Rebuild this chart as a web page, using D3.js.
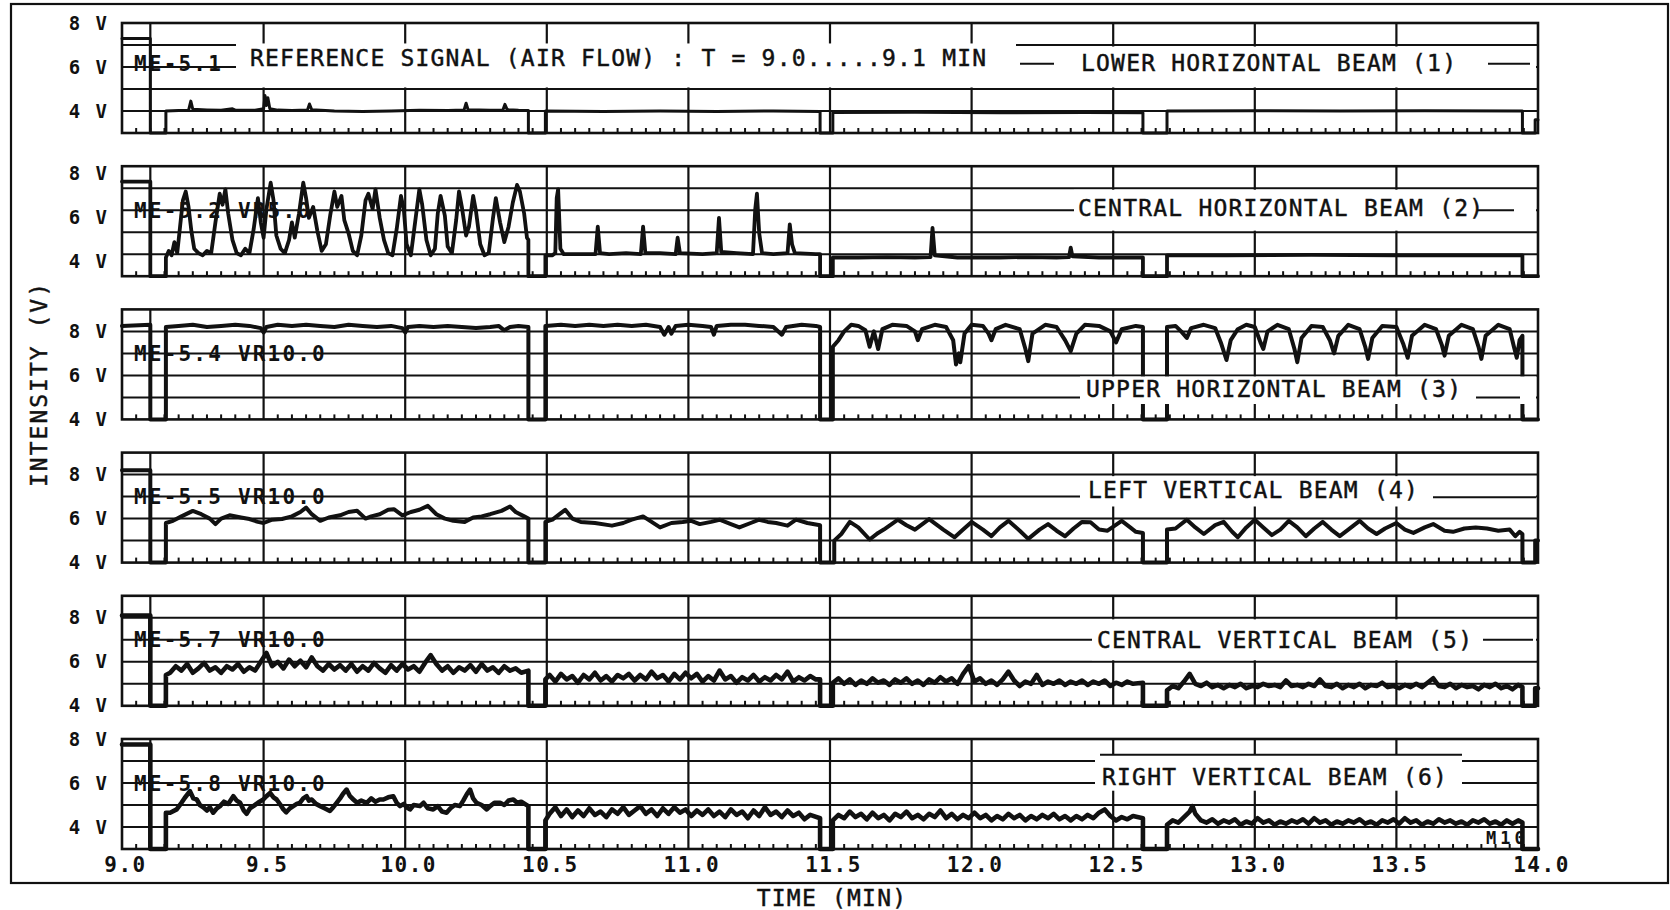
<!DOCTYPE html>
<html>
<head>
<meta charset="utf-8">
<script src="https://cdn.jsdelivr.net/npm/d3@7"></script>
<style>
  html, body { margin: 0; padding: 0; background: #fff; }
  svg { display: block; }
  .beam { font-family: 'DejaVu Sans Mono', monospace; font-size: 23px; letter-spacing: 1.2px; fill: #111; stroke: #111; stroke-width: 0.45px; }
  .chan { font-family: 'DejaVu Sans Mono', monospace; font-size: 21px; font-weight: bold; letter-spacing: 2.2px; fill: #111; }
  .trace { fill: none; stroke: #111; stroke-linejoin: round; stroke-linecap: round; }
</style>
</head>
<body>
<svg id="chart" width="1670" height="910"></svg>
<script>
'use strict';

// axis ticks
var xTickValues = [9, 9.5, 10, 10.5, 11, 11.5, 12, 12.5, 13, 13.5, 14];
var xTickLabels = ['9.0', '9.5', '10.0', '10.5', '11.0', '11.5', '12.0', '12.5', '13.0', '13.5', '14.0'];
var yTickValues = [8, 6, 4];
var yTickLabels = ['8 V', '6 V', '4 V'];
var markerTime = 9.1;

// channel names and beam titles, top to bottom
var channels = ['ME-5.1', 'ME-5.2 VR5.0', 'ME-5.4 VR10.0', 'ME-5.5 VR10.0', 'ME-5.7 VR10.0', 'ME-5.8 VR10.0'];
var beams = ['LOWER HORIZONTAL BEAM (1)', 'CENTRAL HORIZONTAL BEAM (2)', 'UPPER HORIZONTAL BEAM (3)',
  'LEFT VERTICAL BEAM (4)', 'CENTRAL VERTICAL BEAM (5)', 'RIGHT VERTICAL BEAM (6)'];
var refTitle = 'REFERENCE SIGNAL (AIR FLOW) : T = 9.0.....9.1 MIN';

// volts shown at bottom / top of each strip (as printed)
var yDomains = [[3, 8], [3.35, 8.35], [4, 9], [4, 9], [4, 9], [3, 8]];

// [time (min), intensity (V)]
var lowerH = [[9.0,7.3],[9.1,7.3],[9.1,3],[9.155,3],[9.155,4.0],[9.2,4.02],[9.235,4.03],[9.243,4.45],[9.25,4.08],
  [9.3,4.05],[9.35,4.03],[9.39,4.1],[9.4,4.04],[9.47,4.03],[9.5,4.1],[9.505,4.7],[9.51,4.25],[9.515,4.6],[9.522,4.1],
  [9.55,4.04],[9.6,4.02],[9.655,4.05],[9.662,4.32],[9.67,4.06],[9.75,4.0],[9.85,3.98],[9.95,4.0],[10.05,4.03],
  [10.15,4.02],[10.208,4.05],[10.215,4.35],[10.222,4.06],[10.3,4.03],[10.345,4.05],[10.352,4.3],[10.36,4.06],
  [10.4,4.03],[10.435,4.02],[10.435,3],[10.495,3],[10.495,4.0],[10.7,3.98],[10.9,4.0],[11.1,3.98],[11.3,4.0],
  [11.465,3.98],[11.465,3],[11.51,3],[11.51,3.93],[11.8,3.94],[12.1,3.92],[12.4,3.93],[12.605,3.92],[12.605,3],
  [12.69,3],[12.69,4.0],[13.0,4.01],[13.3,4.0],[13.6,4.01],[13.945,4.0],[13.945,3],[13.99,3],[13.99,3.6],[14.0,3.6]];

var centralH = [[9.0,7.65],[9.1,7.65],[9.1,3.35],[9.155,3.35],[9.155,4.2],[9.165,4.5],[9.175,4.3],[9.185,4.9],
  [9.195,4.4],[9.205,5.6],[9.215,6.8],[9.225,7.2],[9.235,6.5],[9.245,5.4],[9.255,4.6],[9.27,4.4],[9.285,4.3],
  [9.3,4.5],[9.315,4.4],[9.33,5.8],[9.345,7.1],[9.355,6.6],[9.365,7.3],[9.375,6.2],[9.39,5.0],[9.405,4.4],
  [9.42,4.3],[9.435,4.6],[9.45,4.4],[9.465,5.5],[9.48,6.9],[9.49,5.8],[9.5,5.1],[9.51,6.4],[9.525,7.6],[9.535,6.8],
  [9.545,5.2],[9.56,4.6],[9.575,4.4],[9.59,5.0],[9.6,5.8],[9.61,5.1],[9.625,6.2],[9.64,7.6],[9.65,6.9],[9.66,6.0],
  [9.675,6.5],[9.69,5.4],[9.705,4.5],[9.72,4.8],[9.735,6.1],[9.75,7.2],[9.76,6.5],[9.775,7.0],[9.785,5.9],[9.8,5.3],
  [9.815,4.5],[9.83,4.3],[9.845,5.2],[9.86,6.8],[9.87,7.1],[9.885,6.4],[9.895,7.3],[9.91,6.0],[9.925,5.0],[9.94,4.4],
  [9.955,4.3],[9.97,5.5],[9.985,7.0],[9.995,6.4],[10.005,4.8],[10.02,4.3],[10.035,5.8],[10.05,7.3],[10.06,6.6],
  [10.075,5.0],[10.09,4.3],[10.105,4.6],[10.115,6.2],[10.125,7.0],[10.14,6.1],[10.15,4.7],[10.165,4.4],[10.18,5.9],
  [10.19,7.2],[10.2,6.5],[10.215,5.2],[10.225,5.6],[10.24,7.0],[10.25,6.3],[10.265,4.8],[10.28,4.3],[10.295,4.4],
  [10.31,6.0],[10.32,6.9],[10.335,5.8],[10.35,4.9],[10.365,5.6],[10.38,6.7],[10.395,7.5],[10.405,7.2],[10.42,6.2],
  [10.43,5.1],[10.435,5.0],[10.435,3.35],[10.495,3.35],[10.495,4.3],[10.52,4.3],[10.53,4.4],[10.535,6.9],[10.54,7.3],
  [10.548,4.6],[10.56,4.35],[10.6,4.35],[10.672,4.35],[10.68,5.6],[10.688,4.4],[10.72,4.35],[10.78,4.4],[10.832,4.35],
  [10.84,5.6],[10.848,4.4],[10.9,4.4],[10.955,4.35],[10.962,5.1],[10.97,4.4],[11.05,4.35],[11.1,4.4],[11.108,6.0],
  [11.116,4.45],[11.17,4.4],[11.228,4.35],[11.236,6.4],[11.242,7.1],[11.25,5.3],[11.26,4.4],[11.3,4.35],[11.35,4.4],
  [11.358,5.7],[11.366,4.8],[11.376,4.4],[11.45,4.35],[11.465,4.35],[11.465,3.35],[11.51,3.35],[11.51,4.2],
  [11.6,4.2],[11.7,4.22],[11.8,4.2],[11.855,4.22],[11.862,5.55],[11.87,4.3],[11.95,4.2],[12.1,4.2],[12.2,4.22],
  [12.3,4.2],[12.344,4.22],[12.35,4.65],[12.356,4.25],[12.45,4.2],[12.605,4.2],[12.605,3.35],[12.69,3.35],
  [12.69,4.3],[12.9,4.3],[13.2,4.32],[13.5,4.3],[13.8,4.3],[13.945,4.3],[13.945,3.35],[14.0,3.35]];

var upperH = [[9.0,8.25],[9.1,8.3],[9.1,4],[9.155,4],[9.155,8.2],[9.2,8.25],[9.25,8.3],[9.3,8.2],[9.35,8.25],
  [9.4,8.3],[9.45,8.25],[9.49,8.15],[9.5,7.95],[9.51,8.2],[9.55,8.3],[9.6,8.25],[9.65,8.3],[9.7,8.25],[9.75,8.2],
  [9.8,8.3],[9.85,8.25],[9.9,8.2],[9.95,8.25],[9.99,8.15],[10.0,7.95],[10.01,8.2],[10.05,8.25],[10.1,8.2],
  [10.15,8.25],[10.2,8.2],[10.25,8.15],[10.3,8.2],[10.33,8.25],[10.35,8.05],[10.37,8.2],[10.4,8.25],[10.435,8.2],
  [10.435,4],[10.495,4],[10.495,8.25],[10.55,8.3],[10.6,8.25],[10.65,8.3],[10.7,8.25],[10.75,8.3],[10.8,8.25],
  [10.85,8.3],[10.9,8.2],[10.915,7.85],[10.93,8.2],[10.94,7.9],[10.955,8.25],[11.0,8.3],[11.05,8.25],[11.08,8.2],
  [11.09,7.85],[11.1,8.25],[11.15,8.3],[11.2,8.3],[11.25,8.25],[11.3,8.2],[11.33,7.85],[11.345,8.2],[11.4,8.3],
  [11.45,8.25],[11.465,8.2],[11.465,4],[11.51,4],[11.51,7.3],[11.53,7.6],[11.55,8.0],[11.575,8.3],[11.6,8.25],
  [11.625,8.05],[11.64,7.3],[11.655,8.0],[11.67,7.2],[11.685,8.1],[11.72,8.3],[11.77,8.25],[11.8,8.0],[11.81,7.6],
  [11.825,8.1],[11.87,8.3],[11.91,8.2],[11.935,7.6],[11.945,6.5],[11.955,7.0],[11.96,6.6],[11.975,7.9],[12.0,8.3],
  [12.04,8.25],[12.06,7.9],[12.07,7.6],[12.085,8.1],[12.12,8.3],[12.17,8.1],[12.19,7.2],[12.2,6.65],[12.215,7.9],
  [12.26,8.3],[12.3,8.2],[12.33,7.6],[12.35,7.1],[12.37,7.9],[12.4,8.3],[12.45,8.25],[12.49,8.0],[12.51,7.5],
  [12.53,8.1],[12.58,8.25],[12.605,8.2],[12.605,4],[12.69,4],[12.69,8.2],[12.72,8.25],[12.74,8.0],[12.76,7.7],
  [12.775,8.15],[12.82,8.3],[12.86,8.15],[12.88,7.5],[12.9,6.7],[12.915,7.6],[12.94,8.1],[12.97,8.3],[13.0,8.2],
  [13.02,7.5],[13.03,7.2],[13.045,8.0],[13.08,8.3],[13.12,8.1],[13.14,7.2],[13.15,6.6],[13.165,7.7],[13.2,8.25],
  [13.24,8.2],[13.265,7.6],[13.28,7.0],[13.295,7.8],[13.33,8.3],[13.37,8.1],[13.39,7.3],[13.4,6.75],[13.415,7.7],
  [13.45,8.25],[13.5,8.2],[13.525,7.4],[13.54,6.8],[13.555,7.8],[13.6,8.3],[13.64,8.1],[13.66,7.4],[13.67,6.9],
  [13.685,7.8],[13.73,8.3],[13.77,8.1],[13.79,7.3],[13.8,6.75],[13.815,7.8],[13.86,8.3],[13.9,8.1],[13.915,7.3],
  [13.925,6.8],[13.935,7.6],[13.945,7.8],[13.945,4],[14.0,4]];

var leftV = [[9.0,8.2],[9.1,8.2],[9.1,4],[9.155,4],[9.155,5.8],[9.18,5.9],[9.21,6.1],[9.25,6.35],[9.28,6.2],
  [9.31,6.0],[9.33,5.75],[9.35,6.0],[9.38,6.15],[9.42,6.05],[9.45,5.98],[9.48,5.85],[9.5,5.8],[9.53,5.95],
  [9.565,5.98],[9.6,6.1],[9.63,6.3],[9.65,6.5],[9.67,6.2],[9.7,5.9],[9.73,6.05],[9.77,6.15],[9.8,6.3],[9.83,6.36],
  [9.86,6.0],[9.88,6.1],[9.91,6.2],[9.94,6.4],[9.96,6.43],[9.99,6.15],[10.02,6.3],[10.05,6.4],[10.08,6.58],
  [10.11,6.2],[10.14,6.0],[10.17,5.9],[10.21,5.85],[10.24,6.05],[10.27,6.1],[10.3,6.2],[10.34,6.35],[10.37,6.55],
  [10.39,6.3],[10.42,6.1],[10.435,6.0],[10.435,4],[10.495,4],[10.495,5.85],[10.52,5.95],[10.545,6.2],[10.565,6.4],
  [10.59,6.0],[10.62,5.85],[10.67,5.8],[10.73,5.68],[10.77,5.8],[10.8,5.95],[10.84,6.1],[10.87,5.85],[10.9,5.6],
  [10.94,5.8],[10.98,5.85],[11.01,5.9],[11.04,5.75],[11.08,5.85],[11.11,5.95],[11.15,5.75],[11.18,5.6],[11.22,5.8],
  [11.25,5.95],[11.28,5.85],[11.31,5.8],[11.35,5.68],[11.38,5.95],[11.42,5.8],[11.465,5.7],[11.465,4],[11.515,4],
  [11.515,5.0],[11.54,5.3],[11.57,5.85],[11.6,5.6],[11.64,5.05],[11.67,5.35],[11.69,5.5],[11.74,5.95],[11.77,5.7],
  [11.8,5.5],[11.85,5.98],[11.9,5.5],[11.94,5.15],[11.97,5.5],[12.0,5.85],[12.04,5.5],[12.07,5.2],[12.1,5.6],
  [12.13,5.9],[12.17,5.45],[12.2,5.08],[12.24,5.5],[12.27,5.75],[12.3,5.45],[12.33,5.2],[12.36,5.55],[12.39,5.85],
  [12.42,5.83],[12.45,5.5],[12.48,5.45],[12.53,5.9],[12.56,5.6],[12.58,5.4],[12.605,5.35],[12.605,4],[12.69,4],
  [12.69,5.5],[12.72,5.55],[12.76,5.95],[12.79,5.6],[12.82,5.3],[12.86,5.7],[12.89,5.85],[12.92,5.4],[12.94,5.15],
  [12.97,5.6],[13.0,5.95],[13.03,5.6],[13.06,5.25],[13.09,5.5],[13.12,5.9],[13.15,5.6],[13.18,5.2],[13.21,5.55],
  [13.24,5.85],[13.27,5.5],[13.3,5.2],[13.33,5.5],[13.37,5.9],[13.4,5.55],[13.43,5.3],[13.46,5.55],[13.5,5.8],
  [13.53,5.5],[13.56,5.35],[13.6,5.6],[13.63,5.75],[13.67,5.45],[13.7,5.4],[13.74,5.55],[13.78,5.6],[13.82,5.55],
  [13.86,5.45],[13.9,5.5],[13.92,5.2],[13.935,5.4],[13.945,5.3],[13.945,4],[13.99,4],[13.99,5.0],[14.0,5.0]];

var centralV = [[9.0,8.1],[9.1,8.1],[9.1,4],[9.155,4],[9.155,5.4],[9.17,5.5],[9.19,5.8],[9.21,5.6],[9.23,5.9],
  [9.25,5.5],[9.27,5.7],[9.29,5.95],[9.31,5.6],[9.33,5.75],[9.35,5.5],[9.37,5.8],[9.39,5.65],[9.41,5.9],[9.43,5.55],
  [9.45,5.75],[9.47,5.6],[9.49,6.0],[9.51,6.4],[9.53,5.8],[9.55,6.0],[9.57,5.7],[9.59,6.1],[9.61,5.8],[9.63,6.05],
  [9.65,5.75],[9.67,6.2],[9.69,5.8],[9.71,5.6],[9.73,5.9],[9.75,5.65],[9.77,5.85],[9.79,5.6],[9.81,5.9],[9.83,5.55],
  [9.85,5.8],[9.87,5.6],[9.89,5.95],[9.91,5.7],[9.93,5.5],[9.95,5.85],[9.97,5.6],[9.99,5.9],[10.01,5.65],[10.03,5.8],
  [10.05,5.55],[10.07,5.95],[10.09,6.3],[10.11,5.9],[10.13,5.6],[10.15,5.8],[10.17,5.5],[10.19,5.75],[10.21,5.6],
  [10.23,5.85],[10.25,5.55],[10.27,5.9],[10.29,5.6],[10.31,5.75],[10.33,5.5],[10.35,5.8],[10.37,5.6],[10.39,5.7],
  [10.41,5.5],[10.435,5.6],[10.435,4],[10.495,4],[10.495,5.2],[10.51,5.4],[10.53,5.1],[10.55,5.45],[10.57,5.2],
  [10.59,5.35],[10.61,5.05],[10.63,5.4],[10.65,5.2],[10.67,5.5],[10.69,5.15],[10.71,5.35],[10.73,5.1],[10.75,5.4],
  [10.77,5.25],[10.79,5.45],[10.81,5.15],[10.83,5.4],[10.85,5.2],[10.87,5.55],[10.89,5.25],[10.91,5.4],[10.93,5.1],
  [10.95,5.45],[10.97,5.2],[10.99,5.5],[11.01,5.25],[11.03,5.45],[11.05,5.1],[11.07,5.35],[11.09,5.15],[11.11,5.6],
  [11.13,5.2],[11.15,5.35],[11.17,5.05],[11.19,5.3],[11.21,5.15],[11.23,5.4],[11.25,5.1],[11.27,5.3],[11.29,5.15],
  [11.31,5.4],[11.33,5.2],[11.35,5.55],[11.37,5.1],[11.39,5.3],[11.41,5.15],[11.43,5.35],[11.45,5.2],[11.465,5.2],
  [11.465,4],[11.51,4],[11.51,5.05],[11.53,5.25],[11.55,5.0],[11.57,5.2],[11.59,4.95],[11.61,5.15],[11.63,5.0],
  [11.65,5.25],[11.67,5.05],[11.69,5.15],[11.71,4.95],[11.73,5.2],[11.75,5.05],[11.77,5.25],[11.79,5.0],[11.81,5.15],
  [11.83,4.95],[11.85,5.2],[11.87,5.05],[11.89,5.3],[11.91,5.1],[11.93,5.25],[11.95,5.0],[11.97,5.45],[11.99,5.8],
  [12.01,5.1],[12.03,5.25],[12.05,5.0],[12.07,5.15],[12.09,4.95],[12.11,5.2],[12.13,5.55],[12.15,5.15],[12.17,4.9],
  [12.19,5.1],[12.21,5.0],[12.23,5.4],[12.25,4.95],[12.27,5.1],[12.29,5.0],[12.31,5.15],[12.33,4.95],[12.35,5.1],
  [12.37,5.0],[12.39,5.15],[12.41,4.95],[12.43,5.1],[12.45,5.0],[12.47,5.15],[12.49,4.9],[12.51,5.05],[12.53,4.95],
  [12.55,5.1],[12.57,5.0],[12.605,5.05],[12.605,4],[12.69,4],[12.69,4.7],[12.71,4.9],[12.73,4.8],[12.75,5.1],
  [12.77,5.45],[12.79,5.0],[12.81,4.9],[12.83,5.05],[12.85,4.85],[12.87,4.95],[12.89,4.8],[12.91,4.95],[12.93,4.85],
  [12.95,5.0],[12.97,4.8],[12.99,4.9],[13.01,4.85],[13.03,5.0],[13.05,4.9],[13.07,4.95],[13.09,4.85],[13.11,5.15],
  [13.13,4.9],[13.15,4.95],[13.17,4.85],[13.19,5.0],[13.21,4.9],[13.23,5.2],[13.25,4.9],[13.27,4.85],[13.29,5.0],
  [13.31,4.8],[13.33,4.95],[13.35,4.85],[13.37,5.0],[13.39,4.8],[13.41,4.95],[13.43,4.9],[13.45,5.05],[13.47,4.85],
  [13.49,4.9],[13.51,4.8],[13.53,4.95],[13.55,4.85],[13.57,5.0],[13.59,4.85],[13.61,5.05],[13.63,5.25],[13.65,4.9],
  [13.67,4.85],[13.69,5.0],[13.71,4.8],[13.73,4.95],[13.75,4.85],[13.77,4.9],[13.79,4.75],[13.81,4.95],[13.83,4.85],
  [13.85,5.0],[13.87,4.8],[13.89,4.9],[13.91,4.75],[13.93,4.95],[13.945,4.85],[13.945,4],[13.99,4],[13.99,4.8],
  [14.0,4.8]];

var rightV = [[9.0,7.75],[9.1,7.75],[9.1,3],[9.155,3],[9.155,4.65],[9.17,4.65],[9.193,4.8],[9.21,5.1],[9.222,5.33],
  [9.24,5.63],[9.252,5.3],[9.264,5.25],[9.275,5.0],[9.287,4.9],[9.3,4.75],[9.31,4.9],[9.322,4.65],[9.335,4.85],
  [9.346,4.95],[9.36,5.15],[9.375,5.05],[9.393,5.4],[9.405,5.2],[9.417,5.1],[9.43,4.75],[9.44,4.6],[9.452,4.85],
  [9.464,4.95],[9.48,5.1],[9.499,5.25],[9.51,5.4],[9.523,5.55],[9.535,5.35],[9.546,5.25],[9.56,5.0],[9.57,4.8],
  [9.58,4.67],[9.593,4.85],[9.605,4.95],[9.617,5.05],[9.628,5.1],[9.64,5.3],[9.652,5.4],[9.66,5.2],[9.67,5.25],
  [9.685,5.05],[9.7,4.95],[9.715,4.85],[9.734,4.73],[9.746,4.9],[9.758,5.1],[9.77,5.3],[9.78,5.5],[9.793,5.7],
  [9.805,5.4],[9.817,5.25],[9.83,5.1],[9.845,5.2],[9.864,5.1],[9.88,5.3],[9.895,5.15],[9.91,5.25],[9.923,5.25],
  [9.94,5.35],[9.958,5.4],[9.97,5.1],[9.982,4.95],[9.995,5.05],[10.005,4.9],[10.017,4.8],[10.03,5.0],[10.052,4.95],
  [10.065,5.1],[10.08,4.85],[10.099,4.8],[10.115,4.95],[10.13,4.7],[10.146,4.65],[10.16,4.85],[10.175,5.0],
  [10.193,4.95],[10.205,5.2],[10.218,5.5],[10.229,5.7],[10.24,5.3],[10.252,5.1],[10.27,5.0],[10.288,4.8],[10.3,4.95],
  [10.315,5.1],[10.335,5.1],[10.35,5.0],[10.365,5.2],[10.382,5.25],[10.395,5.1],[10.41,5.15],[10.435,4.95],
  [10.435,3],[10.495,3],[10.495,4.3],[10.51,4.6],[10.53,4.9],[10.55,4.5],[10.57,4.8],[10.59,4.45],[10.61,4.75],
  [10.63,4.5],[10.65,4.85],[10.67,4.55],[10.69,4.7],[10.71,4.45],[10.73,4.8],[10.75,4.6],[10.77,4.9],[10.79,4.55],
  [10.81,4.75],[10.83,4.95],[10.85,4.6],[10.87,4.8],[10.89,4.5],[10.91,4.85],[10.93,4.6],[10.95,4.9],[10.97,4.65],
  [10.99,4.8],[11.01,4.5],[11.03,4.75],[11.05,4.55],[11.07,4.8],[11.09,4.5],[11.11,4.7],[11.13,4.45],[11.15,4.8],
  [11.17,4.55],[11.19,4.7],[11.21,4.4],[11.23,4.75],[11.25,4.5],[11.27,4.9],[11.29,4.55],[11.31,4.7],[11.33,4.45],
  [11.35,4.75],[11.37,4.5],[11.39,4.65],[11.41,4.35],[11.43,4.55],[11.465,4.4],[11.465,3],[11.51,3],[11.51,4.3],
  [11.53,4.55],[11.55,4.4],[11.57,4.7],[11.59,4.45],[11.61,4.6],[11.63,4.35],[11.65,4.65],[11.67,4.4],[11.69,4.55],
  [11.71,4.3],[11.73,4.6],[11.75,4.45],[11.77,4.7],[11.79,4.4],[11.81,4.55],[11.83,4.35],[11.85,4.6],[11.87,4.45],
  [11.89,4.75],[11.91,4.4],[11.93,4.6],[11.95,4.35],[11.97,4.55],[11.99,4.4],[12.01,4.65],[12.03,4.4],[12.05,4.55],
  [12.07,4.3],[12.09,4.5],[12.11,4.35],[12.13,4.6],[12.15,4.4],[12.17,4.55],[12.19,4.3],[12.21,4.5],[12.23,4.35],
  [12.25,4.55],[12.27,4.4],[12.29,4.6],[12.31,4.35],[12.33,4.5],[12.35,4.3],[12.37,4.5],[12.39,4.35],[12.41,4.55],
  [12.43,4.4],[12.45,4.65],[12.47,4.8],[12.49,4.5],[12.51,4.3],[12.53,4.45],[12.55,4.35],[12.57,4.5],[12.605,4.4],
  [12.605,3],[12.69,3],[12.69,4.1],[12.71,4.3],[12.73,4.2],[12.75,4.45],[12.77,4.7],[12.78,4.95],[12.79,4.6],
  [12.81,4.3],[12.83,4.2],[12.85,4.35],[12.87,4.15],[12.89,4.3],[12.91,4.2],[12.93,4.35],[12.95,4.1],[12.97,4.25],
  [12.99,4.15],[13.01,4.4],[13.03,4.2],[13.05,4.3],[13.07,4.1],[13.09,4.25],[13.11,4.15],[13.13,4.3],[13.15,4.2],
  [13.17,4.35],[13.19,4.15],[13.21,4.4],[13.23,4.2],[13.25,4.3],[13.27,4.1],[13.29,4.25],[13.31,4.15],[13.33,4.3],
  [13.35,4.2],[13.37,4.35],[13.39,4.15],[13.41,4.25],[13.43,4.1],[13.45,4.3],[13.47,4.2],[13.49,4.35],[13.51,4.15],
  [13.53,4.4],[13.55,4.2],[13.57,4.3],[13.59,4.1],[13.61,4.25],[13.63,4.15],[13.65,4.35],[13.67,4.2],[13.69,4.3],
  [13.71,4.15],[13.73,4.25],[13.75,4.1],[13.77,4.3],[13.79,4.2],[13.81,4.35],[13.83,4.15],[13.85,4.25],[13.87,4.1],
  [13.89,4.3],[13.91,4.15],[13.93,4.3],[13.945,4.2],[13.945,3],[14.0,3]];

var series = [lowerH, centralH, upperH, leftV, centralV, rightV];

(function () {
  var svg = d3.select('#chart');
  var x = d3.scaleLinear().domain([9, 14]).range([122, 1538]);
  var firstTop = 23, step = 143.2, height = 110, rows = 5;
  var penWidths = [3, 3.8, 4, 4, 4.6, 4.6];

  // where each strip's caption sits: white bands hiding the grid, short rule pieces, texts
  var captions = [
    { bands: [[236, 1016, 0.93, 2.93], [1016, 1536, 1.07, 2.93]],
      rules: [[1020, 1054, 1.85], [1488, 1530, 1.85]],
      texts: [{ s: refTitle, x: 250, r: 1.6 }, { s: beams[0], x: 1081, r: 1.8 }] },
    { bands: [[1074, 1536, 1.07, 2.93]], rules: [[1477, 1514, 2]],
      texts: [{ s: beams[1], x: 1078, r: 1.9 }] },
    { bands: [[1080, 1536, 3.05, 4.3]], rules: [[1476, 1520, 4]],
      texts: [{ s: beams[2], x: 1086, r: 3.6 }] },
    { bands: [[1080, 1536, 1.07, 2.45]], rules: [[1433, 1536, 2.03]],
      texts: [{ s: beams[3], x: 1088, r: 1.67 }] },
    { bands: [[1092, 1536, 1.07, 2.93]], rules: [[1483, 1533, 2]],
      texts: [{ s: beams[4], x: 1097, r: 2 }] },
    { bands: [[1095, 1536, 0.72, 2.35]], rules: [[1462, 1536, 1], [1462, 1536, 2], [1100, 1462, 0.72]],
      texts: [{ s: beams[5], x: 1102, r: 1.7 }] }
  ];

  var minorTicks = d3.range(1, 100).filter(function (i) { return i % 10 !== 0; })
      .map(function (i) { return 9 + i * 0.05; });

  // outer border
  svg.append('rect')
      .attr('x', 11).attr('y', 4).attr('width', 1657).attr('height', 879)
      .attr('fill', 'none').attr('stroke', '#111').attr('stroke-width', 2.2);

  series.forEach(function (data, i) {
    var top = firstTop + i * step;
    var bottom = top + height;
    var y = d3.scaleLinear().domain(yDomains[i]).range([bottom, top]);
    var rowY = function (r) { return top + r * height / rows; };
    var g = svg.append('g').attr('class', 'strip');

    // grid
    g.selectAll('line.h').data([1, 2, 3, 4]).enter().append('line')
        .attr('x1', x(9)).attr('x2', x(14))
        .attr('y1', rowY).attr('y2', rowY)
        .attr('stroke', '#111').attr('stroke-width', 2);

    g.selectAll('line.v').data(xTickValues.slice(1, -1).concat([markerTime])).enter().append('line')
        .attr('x1', x).attr('x2', x)
        .attr('y1', top).attr('y2', bottom)
        .attr('stroke', '#111').attr('stroke-width', 2.2);

    g.selectAll('line.m').data(minorTicks).enter().append('line')
        .attr('x1', x).attr('x2', x)
        .attr('y1', bottom).attr('y2', bottom - 5)
        .attr('stroke', '#111').attr('stroke-width', 2);

    // signal
    var line = d3.line()
        .x(function (d) { return x(d[0]); })
        .y(function (d) { return y(d[1]); });
    g.append('path')
        .datum(data)
        .attr('class', 'trace')
        .attr('stroke-width', penWidths[i])
        .attr('d', line);

    // caption area, pasted over grid and trace
    var cap = captions[i];
    g.selectAll('rect.band').data(cap.bands).enter().append('rect')
        .attr('x', function (b) { return b[0]; })
        .attr('width', function (b) { return b[1] - b[0]; })
        .attr('y', function (b) { return rowY(b[2]); })
        .attr('height', function (b) { return rowY(b[3]) - rowY(b[2]); })
        .attr('fill', '#fff');

    g.selectAll('line.rule').data(cap.rules).enter().append('line')
        .attr('x1', function (d) { return d[0]; }).attr('x2', function (d) { return d[1]; })
        .attr('y1', function (d) { return rowY(d[2]); }).attr('y2', function (d) { return rowY(d[2]); })
        .attr('stroke', '#111').attr('stroke-width', 2);

    g.append('rect')
        .attr('x', x(9)).attr('y', top)
        .attr('width', x(14) - x(9)).attr('height', height)
        .attr('fill', 'none').attr('stroke', '#111').attr('stroke-width', 2.6);

    g.selectAll('text.beam').data(cap.texts).enter().append('text')
        .attr('class', 'beam')
        .attr('x', function (d) { return d.x; })
        .attr('y', function (d) { return rowY(d.r); })
        .attr('dy', '0.36em')
        .text(function (d) { return d.s; });

    g.append('text')
        .attr('class', 'chan')
        .attr('x', 134)
        .attr('y', rowY(i === 0 ? 1.85 : 2))
        .attr('dy', '0.36em')
        .text(channels[i]);

    // volts
    var yAxis = d3.axisLeft(y)
        .tickValues(yTickValues)
        .tickFormat(function (d, k) { return yTickLabels[k]; })
        .tickSize(0)
        .tickPadding(13);
    var ya = g.append('g')
        .attr('transform', 'translate(' + x(9) + ',0)')
        .call(yAxis);
    ya.select('.domain').remove();
    ya.selectAll('text')
        .attr('font-family', 'DejaVu Sans Mono, monospace')
        .attr('font-weight', 'bold')
        .attr('font-size', 19)
        .attr('letter-spacing', 2)
        .attr('fill', '#111');

    if (i === series.length - 1) {
      g.append('text')
          .attr('x', 1486).attr('y', rowY(4.5)).attr('dy', '0.36em')
          .attr('font-family', 'DejaVu Sans Mono, monospace')
          .attr('font-weight', 'bold').attr('font-size', 17)
          .attr('letter-spacing', 4)
          .attr('fill', '#111')
          .text('M10');
    }
  });

  // time axis
  var lastBottom = firstTop + (series.length - 1) * step + height;
  var xAxis = d3.axisBottom(x)
      .tickValues(xTickValues)
      .tickFormat(function (d, k) { return xTickLabels[k]; })
      .tickSize(0)
      .tickPadding(8);
  var xa = svg.append('g')
      .attr('transform', 'translate(0,' + lastBottom + ')')
      .call(xAxis);
  xa.select('.domain').remove();
  xa.selectAll('text')
      .attr('dx', 3)
      .attr('font-family', 'DejaVu Sans Mono, monospace')
      .attr('font-weight', 'bold')
      .attr('font-size', 21)
      .attr('letter-spacing', 1.5)
      .attr('fill', '#111');

  svg.append('text')
      .attr('class', 'beam')
      .attr('x', 832).attr('y', 898).attr('dy', '0.36em')
      .attr('text-anchor', 'middle')
      .text('TIME (MIN)');

  svg.append('text')
      .attr('class', 'beam')
      .attr('transform', 'translate(39,384) rotate(-90)')
      .attr('dy', '0.36em')
      .attr('text-anchor', 'middle')
      .style('letter-spacing', '2px')
      .text('INTENSITY (V)');
})();
</script>
</body>
</html>
